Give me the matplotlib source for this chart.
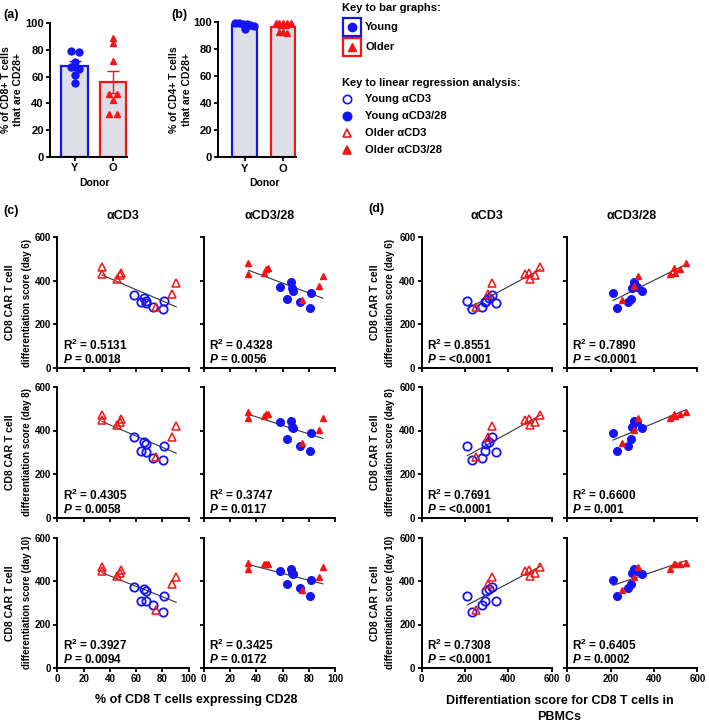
import numpy as np
import matplotlib
matplotlib.use('Agg')
import matplotlib.pyplot as plt
from matplotlib.patches import Rectangle

plt.rcParams['font.family'] = ['Liberation Sans', 'DejaVu Sans']
plt.rcParams['font.weight'] = 'bold'
plt.rcParams['axes.linewidth'] = 1.4
plt.rcParams['mathtext.fontset'] = 'custom'
plt.rcParams['mathtext.rm'] = 'Liberation Sans:bold'
plt.rcParams['mathtext.bf'] = 'Liberation Sans:bold'
plt.rcParams['mathtext.it'] = 'Liberation Sans:bold:italic'

BLUE = '#1414f5'
RED = '#f51414'
GREY = '#dedee6'

# (a) and (b): % CD28+ cells per donor
cd8_young = [78, 79, 71, 67, 66, 61, 55]
cd8_older = [89, 85, 72, 47, 47, 42.5, 32, 32]
cd4_young = [99.5, 99.5, 99, 98.5, 98, 97.5, 95]
cd4_older = [99.5, 99.5, 99.5, 99.5, 99.5, 92.5, 93, 92]

# regression x values, one per donor (same donor order everywhere)
young_cd28 = [58, 63.5, 66, 67.3, 67.5, 72.8, 80.5, 81.2]
older_cd28 = [34, 34, 45.5, 47.5, 48.5, 75, 87.5, 90.5]
young_pbmc = [323, 294, 309, 297, 343, 279, 231, 211]
older_pbmc = [548, 475, 499, 521, 493, 251, 306, 326]

# CD8 CAR T differentiation scores
young_cd3_d6 = [337, 304, 319, 307, 296, 281, 270, 307]
older_cd3_d6 = [462, 431, 409, 426, 434, 281, 341, 391]
young_cd3_d8 = [371, 305, 348, 337, 300, 274, 266, 328]
older_cd3_d8 = [473, 447, 427, 440, 452, 279, 369, 420]
young_cd3_d10 = [371, 306, 362, 352, 306, 289, 258, 332]
older_cd3_d10 = [465, 445, 423, 438, 450, 265, 385, 420]
young_cd328_d6 = [373, 316, 393, 367, 353, 304, 276, 342]
older_cd328_d6 = [483, 429, 437, 452, 458, 311, 377, 423]
young_cd328_d8 = [438, 359, 444, 414, 412, 329, 308, 390]
older_cd328_d8 = [487, 456, 467, 478, 474, 342, 401, 458]
young_cd328_d10 = [445, 386, 455, 435, 430, 370, 333, 403]
older_cd328_d10 = [485, 453, 476, 478, 477, 357, 418, 465]

days = ['6', '8', '10']
c_r2 = ['0.5131', '0.4328', '0.4305', '0.3747', '0.3927', '0.3425']
c_p = ['0.0018', '0.0056', '0.0058', '0.0117', '0.0094', '0.0172']
d_r2 = ['0.8551', '0.7890', '0.7691', '0.6600', '0.7308', '0.6405']
d_p = ['<0.0001', '<0.0001', '<0.0001', '0.001', '<0.0001', '0.0002']

W, H = 709, 724
fig = plt.figure(figsize=(W / 100, H / 100), dpi=100)


def box(l, t, r, b):
    return [l / W, 1 - b / H, (r - l) / W, (b - t) / H]


def swarm(vals, tol, step):
    vals = np.asarray(vals, float)
    order = np.argsort(-vals)
    offs = np.zeros(len(vals))
    i = 0
    while i < len(order):
        j = i
        while j + 1 < len(order) and vals[order[i]] - vals[order[j + 1]] <= tol:
            j += 1
        n = j - i + 1
        for k in range(n):
            offs[order[i + k]] = (k - (n - 1) / 2) * step
        i = j + 1
    return offs


def style(ax, size):
    ax.spines['top'].set_visible(False)
    ax.spines['right'].set_visible(False)
    ax.tick_params(direction='out', length=3, width=1.3, pad=1.5, labelsize=size)


def bar_panel(ax, young, older, width, xlim, tol, step):
    for pos, vals, col, mk in [(0, young, BLUE, 'o'), (1, older, RED, '^')]:
        vals = np.asarray(vals, float)
        m = vals.mean()
        sem = vals.std(ddof=1) / np.sqrt(len(vals))
        ax.bar(pos, m, width, color=GREY, edgecolor=col, linewidth=1.6, zorder=1)
        ax.errorbar(pos, m, yerr=sem, color=col, capsize=4, lw=1, capthick=1, zorder=2)
        ax.plot(pos + swarm(vals, tol, step), vals, mk, color=col, ms=5,
                zorder=3, clip_on=False)
    ax.set_xlim(*xlim)
    ax.set_ylim(0, 100)
    ax.set_yticks(range(0, 101, 20))
    ax.set_xticks([0, 1])
    ax.set_xticklabels(['Y', 'O'])
    style(ax, 8)


ax_a = fig.add_axes(box(50, 23, 126.7, 157))
bar_panel(ax_a, cd8_young, cd8_older, 0.7, (-0.65, 1.36), 1.5, 0.2)
ax_b = fig.add_axes(box(218.3, 22.3, 296, 157.3))
bar_panel(ax_b, cd4_young, cd4_older, 0.63, (-0.68, 1.33), 2.5, 0.1)

rows = [(237.3, 367.8), (387, 517.5), (537.5, 668)]
c_cols = [(57.3, 188.7), (203.7, 335.3)]
d_cols = [(421.7, 551.7), (567.3, 697.3)]
young_sets = [[young_cd3_d6, young_cd328_d6], [young_cd3_d8, young_cd328_d8],
              [young_cd3_d10, young_cd328_d10]]
older_sets = [[older_cd3_d6, older_cd328_d6], [older_cd3_d8, older_cd328_d8],
              [older_cd3_d10, older_cd328_d10]]

for block, cols, xy, xo, r2s, ps, xmax, xt in [
        ('c', c_cols, young_cd28, older_cd28, c_r2, c_p, 100, range(0, 101, 20)),
        ('d', d_cols, young_pbmc, older_pbmc, d_r2, d_p, 600, range(0, 601, 200))]:
    for ri, (top, bot) in enumerate(rows):
        for ci, (left, right) in enumerate(cols):
            ax = fig.add_axes(box(left, top, right, bot))
            yy = young_sets[ri][ci]
            yo = older_sets[ri][ci]
            xa = np.array(xy + xo, float)
            ya = np.array(yy + yo, float)
            fit = np.polyfit(xa, ya, 1)
            xs = np.array([xa.min(), xa.max()])
            ax.plot(xs, np.polyval(fit, xs), color='#333333', lw=0.8, zorder=1)
            if ci == 0:
                ax.plot(xy, yy, 'o', mfc='none', mec=BLUE, mew=1.3, ms=6, zorder=2)
                ax.plot(xo, yo, '^', mfc='none', mec=RED, mew=1.1, ms=6, zorder=3)
            else:
                ax.plot(xy, yy, 'o', color=BLUE, ms=5.5, zorder=2)
                ax.plot(xo, yo, '^', color=RED, ms=5, zorder=3)
            ax.set_xlim(0, xmax)
            ax.set_ylim(0, 600)
            ax.set_xticks(list(xt))
            ax.set_yticks([0, 200, 400, 600])
            style(ax, 7)
            if ri < 2:
                ax.set_xticklabels([])
            if ci == 1:
                ax.set_yticklabels([])
            k = ri * 2 + ci
            ax.text(0.04, 0.17, 'R$^{2}$ = ' + r2s[k], transform=ax.transAxes,
                    fontsize=8.5, va='center', ha='left')
            ax.text(0.04, 0.065, '$P$ = ' + ps[k], transform=ax.transAxes,
                    fontsize=8.5, va='center', ha='left')

# overlay in pixel coordinates for labels and keys
ov = fig.add_axes([0, 0, 1, 1], zorder=-1)
ov.set_xlim(0, W)
ov.set_ylim(H, 0)
ov.axis('off')

for txt, x, y in [('(a)', 3, 15), ('(b)', 171, 15), ('(c)', 3, 211), ('(d)', 368, 209)]:
    ov.text(x, y, txt, fontsize=9, ha='left', va='center')
for txt, x in [('αCD3', 123), ('αCD3/28', 269.5), ('αCD3', 486.7), ('αCD3/28', 632)]:
    ov.text(x, 216, txt, fontsize=9, ha='center', va='center')

ov.text(6, 90, '% of CD8+ T cells', rotation=90, fontsize=7.5, ha='center', va='center')
ov.text(18, 90, 'that are CD28+', rotation=90, fontsize=7.5, ha='center', va='center')
ov.text(174, 90, '% of CD4+ T cells', rotation=90, fontsize=7.5, ha='center', va='center')
ov.text(187, 90, 'that are CD28+', rotation=90, fontsize=7.5, ha='center', va='center')
ov.text(94, 183, 'Donor', fontsize=7.5, ha='center', va='center')
ov.text(264, 183, 'Donor', fontsize=7.5, ha='center', va='center')

for ri, (top, bot) in enumerate(rows):
    yc = (top + bot) / 2
    for x1, x2 in [(10, 26.7), (375, 390)]:
        ov.text(x1, yc, 'CD8 CAR T cell', rotation=90, fontsize=7.5, ha='center', va='center')
        ov.text(x2, yc, 'differentiation score (day ' + days[ri] + ')', rotation=90,
                fontsize=7, ha='center', va='center')

ov.text(196.5, 700, '% of CD8 T cells expressing CD28', fontsize=9, ha='center', va='center')
ov.text(559.5, 701, 'Differentiation score for CD8 T cells in', fontsize=9, ha='center', va='center')
ov.text(559.5, 717, 'PBMCs', fontsize=9, ha='center', va='center')

# key to bar graphs
ov.text(342, 8, 'Key to bar graphs:', fontsize=8, ha='left', va='center')
for y, col, mk, lab in [(27, BLUE, 'o', 'Young'), (47, RED, '^', 'Older')]:
    ov.add_patch(Rectangle((342.5, y - 9), 18, 18, facecolor='white', edgecolor=col, lw=1.6))
    ov.plot([351.5], [y], mk, color=col, ms=6)
    ov.text(365, y, lab, fontsize=8, ha='left', va='center')

# key to regression
ov.text(342, 83, 'Key to linear regression analysis:', fontsize=8, ha='left', va='center')
for y, col, mk, fill, lab in [(99, BLUE, 'o', False, 'Young αCD3'),
                              (116, BLUE, 'o', True, 'Young αCD3/28'),
                              (133, RED, '^', False, 'Older αCD3'),
                              (150, RED, '^', True, 'Older αCD3/28')]:
    ov.plot([347], [y], mk, mec=col, mfc=col if fill else 'none', mew=1.2, ms=6)
    ov.text(365, y, lab, fontsize=8, ha='left', va='center')

fig.savefig('out.png', dpi=100)
